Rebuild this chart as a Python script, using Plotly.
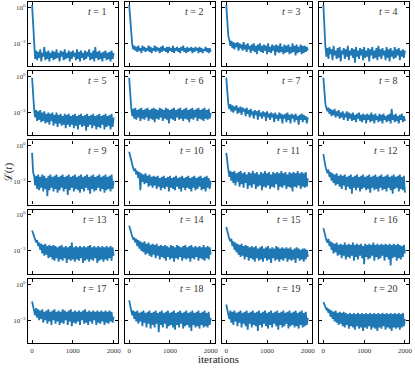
import numpy as np
import plotly.graph_objects as go
from plotly.subplots import make_subplots

# loss curves as log10(L) every ~25 iterations
t1 = [0.2, -1.6, -3.4, -4.3, -3.6, -4.4, -3.7, -4.2, -3.5, -4.5, -3.8, -4.1, -3.3, -4.4, -3.7, -4.3, -3.6, -4.5, -3.8, -4.2, -3.6, -4.4, -3.7, -4.3, -3.5, -4.2, -3.8, -4.5, -3.6, -4.1, -3.7, -4.4, -3.5, -4.3, -3.8, -4.2, -3.6, -4.5, -3.7, -4.3, -3.6, -4.1, -3.8, -4.4, -3.5, -4.3, -3.7, -4.5, -3.6, -4.2, -3.8, -4.4, -3.6, -4.3, -3.7, -4.1, -3.5, -4.4, -3.8, -4.3, -3.6, -4.5, -3.3, -4.2, -3.7, -4.4, -3.6, -4.3, -3.8, -4.5, -3.7, -4.2, -3.6, -4.4, -3.8, -4.3, -3.7, -4.5, -3.6, -4.3, -3.8]
t2 = [0.2, -1.2, -2.7, -3.1, -3.5, -3.2, -3.6, -3.3, -3.7, -3.2, -3.6, -3.4, -3.8, -3.2, -3.6, -3.3, -3.7, -3.4, -3.6, -3.2, -3.7, -3.3, -3.8, -3.4, -3.6, -3.2, -3.7, -3.3, -3.6, -3.4, -3.8, -3.3, -3.7, -3.2, -3.6, -3.4, -3.7, -3.3, -3.8, -3.3, -3.6, -3.4, -3.7, -3.2, -3.8, -3.4, -3.6, -3.3, -3.7, -3.4, -3.8, -3.3, -3.6, -3.2, -3.7, -3.4, -3.8, -3.3, -3.7, -3.4, -3.6, -3.3, -3.8, -3.4, -3.7, -3.3, -3.6, -3.4, -3.8, -3.3, -3.7, -3.4, -3.8, -3.5, -3.6, -3.3, -3.7, -3.4, -3.8, -3.4, -3.7]
t3 = [0.2, -1.4, -2.4, -2.7, -3.2, -2.8, -3.4, -2.9, -3.5, -3.0, -3.3, -2.9, -3.6, -3.0, -3.4, -3.1, -3.6, -2.9, -3.5, -3.1, -3.7, -3.0, -3.5, -3.2, -3.8, -3.1, -3.6, -3.0, -3.7, -3.2, -3.9, -3.1, -3.6, -3.0, -3.7, -3.2, -3.8, -3.1, -3.6, -3.2, -3.9, -3.0, -3.7, -3.3, -3.8, -3.1, -3.6, -3.2, -4.0, -3.1, -3.7, -3.2, -3.8, -3.0, -3.7, -3.3, -3.9, -3.1, -3.8, -3.2, -3.7, -3.1, -3.9, -3.3, -3.8, -3.0, -3.7, -3.2, -4.0, -3.1, -3.8, -3.3, -3.7, -3.1, -3.9, -3.2, -3.8, -3.2, -3.7, -3.3, -3.6]
t4 = [0.2, -2.2, -3.3, -4.1, -3.4, -4.3, -3.3, -3.9, -3.5, -4.4, -3.2, -4.0, -3.6, -4.3, -3.4, -4.2, -3.3, -4.5, -3.6, -3.9, -3.4, -4.3, -3.5, -4.1, -3.2, -4.4, -3.6, -4.0, -3.4, -4.2, -3.5, -4.6, -3.3, -4.1, -3.6, -4.3, -3.4, -4.0, -3.5, -4.4, -3.3, -4.2, -3.6, -4.1, -3.4, -4.5, -3.5, -4.0, -3.3, -4.3, -3.6, -4.2, -3.4, -4.4, -3.2, -4.1, -3.5, -4.3, -3.4, -4.0, -3.6, -4.4, -3.3, -4.2, -3.5, -4.5, -3.4, -4.1, -3.6, -4.3, -3.3, -4.2, -3.5, -4.0, -3.4, -4.4, -3.6, -4.1, -3.5, -4.2, -3.6]
t5 = [-0.1, -1.6, -2.7, -3.4, -2.8, -3.7, -2.9, -3.6, -2.8, -3.8, -3.0, -3.7, -2.9, -3.9, -3.1, -3.8, -3.0, -4.0, -3.1, -3.7, -3.0, -4.1, -3.2, -3.9, -3.0, -4.2, -3.2, -3.9, -3.1, -4.1, -3.3, -4.0, -3.1, -4.3, -3.2, -4.0, -3.1, -4.2, -3.3, -4.0, -3.2, -4.3, -3.1, -4.1, -3.3, -4.4, -3.2, -4.0, -3.1, -4.2, -3.3, -4.1, -3.2, -4.5, -3.1, -4.2, -3.3, -4.0, -3.2, -4.3, -3.1, -4.1, -3.3, -4.4, -3.2, -4.2, -3.1, -4.3, -3.3, -4.0, -3.2, -4.4, -3.1, -4.2, -3.3, -4.1, -3.2, -4.4, -3.1, -4.2, -3.4]
t6 = [-0.1, -1.9, -2.6, -3.3, -2.7, -3.5, -2.6, -3.6, -2.8, -3.4, -2.7, -3.7, -2.6, -3.5, -2.8, -3.6, -2.7, -3.4, -2.6, -3.7, -2.8, -3.5, -2.7, -3.6, -2.6, -3.8, -2.7, -3.5, -2.8, -3.6, -2.6, -3.4, -2.7, -3.7, -2.8, -3.5, -2.6, -3.6, -2.7, -3.9, -2.8, -3.5, -2.7, -3.6, -2.6, -3.7, -2.8, -3.4, -2.7, -3.6, -2.6, -3.5, -2.8, -3.7, -2.7, -3.5, -2.6, -3.6, -2.8, -3.8, -2.7, -3.5, -2.6, -3.6, -2.8, -3.4, -2.7, -3.7, -2.6, -3.5, -2.8, -3.6, -2.7, -3.7, -2.6, -3.5, -2.8, -3.6, -2.7, -3.5, -3.0]
t7 = [-0.1, -1.6, -2.3, -2.7, -2.3, -2.9, -2.4, -3.0, -2.5, -2.8, -2.4, -3.1, -2.6, -3.0, -2.5, -3.2, -2.6, -2.9, -2.7, -3.3, -2.6, -3.1, -2.8, -3.4, -2.7, -3.2, -2.9, -3.5, -2.8, -3.2, -2.9, -3.6, -2.8, -3.3, -3.0, -3.5, -2.9, -3.3, -3.0, -3.7, -2.9, -3.4, -3.1, -3.6, -3.0, -3.4, -3.1, -3.8, -3.0, -3.5, -3.2, -3.7, -3.0, -3.5, -3.1, -3.9, -3.2, -3.5, -3.1, -3.8, -3.0, -3.6, -3.2, -3.9, -3.1, -3.5, -3.2, -3.8, -3.1, -3.6, -3.3, -4.0, -3.2, -3.6, -3.1, -3.8, -3.2, -3.6, -3.3, -3.9, -3.4]
t8 = [-0.1, -1.5, -2.3, -2.6, -2.9, -2.6, -3.1, -2.7, -3.3, -2.8, -3.2, -2.7, -3.4, -2.9, -3.3, -2.8, -3.5, -3.0, -3.4, -2.9, -3.6, -3.1, -3.4, -2.9, -3.7, -3.0, -3.5, -3.1, -3.7, -3.0, -3.6, -3.2, -3.8, -3.1, -3.5, -3.0, -3.7, -3.2, -3.8, -3.1, -3.6, -3.2, -3.9, -3.1, -3.6, -3.2, -3.8, -3.0, -3.7, -3.2, -3.9, -3.1, -3.6, -3.3, -3.8, -3.1, -3.7, -3.2, -3.9, -3.1, -3.6, -3.3, -3.8, -3.2, -3.7, -3.1, -3.9, -2.7, -3.6, -3.2, -3.8, -3.1, -3.7, -3.3, -3.9, -3.2, -3.6, -3.1, -3.8, -3.3, -3.7]
t9 = [-0.6, -2.2, -2.5, -3.3, -2.5, -3.6, -2.4, -3.7, -2.6, -3.5, -2.4, -3.8, -2.5, -3.6, -2.7, -4.2, -2.5, -3.7, -2.4, -3.5, -2.6, -3.8, -2.5, -3.6, -2.4, -3.9, -2.6, -3.7, -2.5, -3.5, -2.4, -3.8, -2.6, -3.6, -2.5, -4.1, -2.4, -3.7, -2.6, -3.5, -2.5, -3.8, -2.4, -3.6, -2.6, -3.7, -2.5, -3.9, -2.4, -3.6, -2.6, -3.8, -2.5, -3.5, -2.4, -3.7, -2.6, -4.0, -2.5, -3.6, -2.4, -3.8, -2.6, -3.7, -2.5, -3.5, -2.4, -3.8, -2.6, -3.6, -2.5, -3.9, -2.4, -3.7, -2.6, -3.6, -2.5, -3.8, -2.4, -3.6, -2.9]
t10 = [-0.5, -0.9, -1.3, -1.6, -1.9, -2.1, -1.9, -2.4, -2.1, -2.7, -2.2, -3.7, -2.3, -3.0, -2.4, -3.2, -2.3, -3.1, -2.5, -3.4, -2.4, -3.3, -2.6, -3.5, -2.5, -3.3, -2.6, -3.6, -2.5, -3.4, -2.7, -3.7, -2.6, -3.5, -2.5, -3.6, -2.7, -3.4, -2.6, -3.8, -2.5, -3.5, -2.7, -3.6, -2.6, -3.7, -2.5, -3.4, -2.7, -3.6, -2.6, -3.8, -2.5, -3.5, -2.7, -3.7, -2.6, -3.5, -2.5, -3.6, -2.7, -3.8, -2.6, -3.5, -2.5, -3.7, -2.7, -3.6, -2.6, -3.4, -2.5, -3.7, -2.7, -3.6, -2.6, -3.8, -2.5, -3.5, -2.7, -3.6, -2.9]
t11 = [-0.6, -1.6, -2.0, -2.6, -2.1, -2.9, -2.2, -3.1, -2.1, -3.3, -2.3, -3.0, -2.2, -3.4, -2.1, -3.2, -2.3, -3.5, -2.2, -3.1, -2.4, -3.6, -2.2, -3.3, -2.3, -3.5, -2.1, -3.2, -2.3, -3.6, -2.2, -3.4, -2.4, -3.3, -2.2, -3.7, -2.3, -3.4, -2.1, -3.5, -2.3, -3.3, -2.2, -3.6, -2.4, -3.4, -2.2, -3.5, -2.3, -3.2, -2.2, -3.7, -2.3, -3.4, -2.1, -3.5, -2.3, -3.3, -2.2, -3.6, -2.4, -3.4, -2.2, -3.5, -2.3, -3.8, -2.2, -3.4, -2.3, -3.5, -2.1, -3.3, -2.3, -3.6, -2.2, -3.4, -2.3, -3.5, -2.2, -3.4, -2.7]
t12 = [-0.7, -1.3, -1.7, -2.0, -2.3, -2.0, -2.6, -2.2, -2.9, -2.3, -3.1, -2.4, -3.3, -2.3, -3.2, -2.5, -3.4, -2.4, -3.6, -2.5, -3.3, -2.4, -3.7, -2.6, -3.4, -2.5, -3.6, -2.4, -4.0, -2.6, -3.5, -2.5, -3.7, -2.4, -3.5, -2.6, -3.8, -2.5, -3.6, -2.4, -3.5, -2.6, -3.7, -2.5, -3.6, -2.4, -3.9, -2.6, -3.5, -2.5, -3.7, -2.4, -3.6, -2.6, -3.8, -2.5, -3.5, -2.4, -3.7, -2.6, -3.6, -2.5, -3.8, -2.4, -3.5, -2.6, -3.7, -2.5, -4.0, -2.4, -3.6, -2.6, -3.5, -2.5, -3.8, -2.4, -3.6, -2.6, -3.7, -2.5, -3.9]
t13 = [-1.3, -1.6, -1.9, -2.1, -2.3, -2.1, -2.6, -2.3, -2.9, -2.4, -3.2, -2.5, -3.4, -2.4, -3.3, -2.6, -3.6, -2.5, -3.5, -2.6, -3.7, -2.5, -3.8, -2.6, -3.6, -2.7, -3.9, -2.6, -3.7, -2.5, -3.8, -2.7, -3.6, -2.6, -4.0, -2.7, -3.7, -2.6, -3.8, -2.3, -3.7, -2.7, -3.9, -2.6, -3.7, -2.7, -3.8, -2.6, -3.6, -2.7, -4.0, -2.6, -3.8, -2.7, -3.7, -2.6, -3.9, -2.5, -3.7, -2.7, -3.8, -2.6, -3.6, -2.7, -4.0, -2.6, -3.8, -2.7, -3.7, -2.6, -3.9, -2.7, -3.7, -2.6, -3.8, -2.7, -3.6, -2.6, -3.8, -2.7, -3.4]
t14 = [-0.9, -1.3, -1.6, -1.8, -2.0, -1.9, -2.3, -2.0, -2.6, -2.1, -2.8, -2.2, -3.0, -2.3, -3.1, -2.2, -3.3, -2.4, -3.2, -2.3, -3.4, -2.5, -3.5, -2.4, -3.3, -2.5, -3.6, -2.4, -3.4, -2.6, -3.7, -2.5, -3.5, -2.6, -3.6, -2.5, -3.8, -2.6, -3.5, -2.7, -3.7, -2.5, -3.6, -2.6, -3.9, -2.7, -3.6, -2.5, -3.7, -2.6, -3.5, -2.7, -3.8, -2.6, -3.6, -2.5, -3.7, -2.7, -3.6, -2.6, -3.9, -2.5, -3.6, -2.7, -3.7, -2.6, -3.5, -2.7, -3.8, -2.6, -3.6, -2.7, -3.7, -2.5, -3.8, -2.7, -3.6, -2.6, -3.7, -2.7, -3.3]
t15 = [-1.0, -1.4, -1.7, -2.0, -2.2, -2.0, -2.6, -2.2, -2.9, -2.3, -3.1, -2.4, -3.3, -2.5, -3.5, -2.4, -3.4, -2.6, -3.7, -2.5, -3.5, -2.6, -3.8, -2.7, -3.6, -2.6, -3.7, -2.7, -3.9, -2.6, -3.6, -2.8, -3.8, -2.7, -3.7, -2.6, -3.9, -2.8, -3.6, -2.7, -3.8, -2.6, -3.7, -2.8, -4.0, -2.7, -3.6, -2.8, -3.8, -2.6, -3.7, -2.7, -3.9, -2.8, -3.7, -2.7, -3.8, -2.8, -3.6, -2.7, -3.9, -2.8, -3.7, -2.7, -3.8, -2.9, -3.7, -2.8, -4.0, -2.7, -3.6, -2.8, -3.8, -2.9, -3.7, -2.8, -3.9, -2.8, -3.7, -2.9, -3.5]
t16 = [-1.1, -1.5, -1.9, -2.1, -2.3, -2.0, -2.6, -2.2, -2.9, -2.3, -3.2, -2.4, -3.1, -2.3, -3.4, -2.5, -3.3, -2.4, -3.6, -2.5, -3.4, -2.3, -3.7, -2.5, -3.5, -2.4, -3.6, -2.5, -3.4, -2.3, -3.8, -2.5, -3.5, -2.4, -3.7, -2.5, -3.4, -2.4, -3.6, -2.6, -4.1, -2.4, -3.5, -2.5, -3.7, -2.4, -3.6, -2.5, -3.4, -2.3, -3.8, -2.5, -3.5, -2.4, -3.7, -2.5, -3.6, -2.4, -3.4, -2.5, -3.8, -2.4, -3.5, -2.5, -3.7, -2.4, -4.2, -2.5, -3.6, -2.4, -3.5, -2.5, -3.8, -2.4, -3.6, -2.5, -3.7, -2.6, -3.5, -2.5, -3.2]
t17 = [-1.45, -1.9, -2.1, -2.6, -2.0, -2.8, -2.1, -3.0, -2.2, -2.9, -2.1, -3.2, -2.3, -3.0, -2.2, -3.3, -2.1, -3.1, -2.3, -3.4, -2.2, -3.0, -2.1, -3.3, -2.3, -3.1, -2.2, -3.4, -2.3, -3.2, -2.1, -3.3, -2.2, -3.0, -2.3, -3.4, -2.2, -3.1, -2.1, -3.5, -2.3, -3.2, -2.2, -3.3, -2.3, -3.1, -2.2, -3.4, -2.3, -3.0, -2.2, -3.3, -2.1, -3.2, -2.3, -3.4, -2.2, -3.1, -2.3, -3.3, -2.2, -3.0, -2.3, -3.4, -2.2, -3.2, -2.3, -3.3, -2.2, -3.1, -2.3, -3.4, -2.2, -3.2, -2.3, -3.3, -2.2, -3.1, -2.3, -3.2, -2.7]
t18 = [-1.35, -1.8, -2.1, -2.6, -2.2, -2.9, -2.3, -3.1, -2.2, -3.3, -2.4, -3.1, -2.3, -3.5, -2.2, -3.2, -2.4, -3.6, -2.3, -3.3, -2.2, -3.7, -2.4, -3.4, -2.3, -3.6, -2.2, -3.3, -2.4, -4.0, -2.3, -3.4, -2.2, -3.6, -2.4, -3.3, -2.3, -3.7, -2.2, -3.5, -2.4, -3.4, -2.3, -3.6, -2.2, -3.8, -2.4, -3.4, -2.3, -3.6, -2.2, -3.3, -2.4, -3.7, -2.3, -3.5, -2.2, -3.4, -2.4, -3.6, -2.3, -3.9, -2.2, -3.4, -2.4, -3.6, -2.3, -3.5, -2.2, -3.7, -2.4, -3.4, -2.3, -3.6, -2.2, -3.5, -2.4, -3.6, -2.3, -3.4, -2.8]
t19 = [-1.7, -2.1, -2.3, -2.9, -2.2, -3.2, -2.3, -3.4, -2.2, -3.1, -2.4, -3.5, -2.3, -3.2, -2.2, -3.6, -2.4, -3.3, -2.3, -3.5, -2.2, -3.8, -2.4, -3.3, -2.3, -3.6, -2.2, -3.4, -2.4, -3.5, -2.3, -3.9, -2.2, -3.4, -2.4, -3.6, -2.3, -3.3, -2.2, -3.5, -2.4, -3.7, -2.3, -3.4, -2.2, -3.6, -2.4, -3.3, -2.3, -3.5, -2.2, -3.8, -2.4, -3.4, -2.3, -3.6, -2.2, -3.5, -2.4, -3.3, -2.3, -3.7, -2.2, -3.5, -2.4, -3.4, -2.3, -3.6, -2.2, -3.5, -2.4, -3.7, -2.3, -3.4, -2.2, -3.6, -2.4, -3.5, -2.3, -3.4, -2.8]
t20 = [-1.5, -1.7, -1.9, -2.1, -2.0, -2.4, -2.1, -2.7, -2.2, -2.9, -2.3, -3.1, -2.2, -3.2, -2.4, -3.4, -2.3, -3.3, -2.4, -3.5, -2.3, -3.6, -2.4, -3.4, -2.5, -3.7, -2.4, -3.5, -2.5, -3.6, -2.4, -3.8, -2.5, -3.5, -2.4, -3.7, -2.5, -3.6, -2.4, -3.9, -2.5, -3.6, -2.4, -3.7, -2.5, -3.5, -2.4, -3.8, -2.5, -3.6, -2.4, -3.7, -2.5, -3.9, -2.4, -3.6, -2.5, -3.7, -2.4, -3.5, -2.5, -3.8, -2.4, -3.6, -2.5, -3.7, -2.4, -3.9, -2.5, -3.6, -2.4, -3.7, -2.5, -3.6, -2.4, -3.8, -2.5, -3.6, -2.4, -3.5, -2.9]

panels = [t1, t2, t3, t4, t5, t6, t7, t8, t9, t10,
          t11, t12, t13, t14, t15, t16, t17, t18, t19, t20]
x_ticks = [0, 1000, 2000]
y_ticks = [1, 1e-3]
y_ticktext = ["10<sup>0</sup>", "10<sup>\u22123</sup>"]

W, H = 415, 368
L, R, T, B = 27.7, 5.7, 2, 25
PW, PH = W - L - R, H - T - B
FONT = "Liberation Serif"
BLUE = "#1f77b4"

fig = make_subplots(rows=5, cols=4, horizontal_spacing=7.4 / PW,
                    vertical_spacing=5 / PH)

for i, vals in enumerate(panels):
    r, c = i // 4 + 1, i % 4 + 1
    iters = np.linspace(0, 2000, len(vals))
    fig.add_trace(go.Scatter(x=iters, y=10 ** np.array(vals), mode="lines",
                             line=dict(color=BLUE, width=1.8),
                             showlegend=False, hoverinfo="skip"),
                  row=r, col=c)
    fig.add_annotation(text=f"<i>t</i> = {i + 1}", showarrow=False,
                       xref="x domain" if i == 0 else f"x{i + 1} domain",
                       yref="y domain" if i == 0 else f"y{i + 1} domain",
                       x=0.89, y=0.85, xanchor="right", yanchor="middle",
                       font=dict(family=FONT, size=10, color="#333"))

fig.update_xaxes(range=[-100, 2100], tickvals=x_ticks, ticks="inside",
                 ticklen=3, tickwidth=0.8, tickcolor="black",
                 showline=True, mirror="ticks", linecolor="black",
                 linewidth=1.3, showgrid=False, zeroline=False,
                 showticklabels=False,
                 tickfont=dict(family=FONT, size=7, color="#333"))
fig.update_yaxes(type="log", range=[-4.9, 0.44], tickvals=y_ticks,
                 ticktext=y_ticktext, ticks="inside", ticklen=3,
                 tickwidth=0.8, tickcolor="black", showline=True,
                 mirror="ticks", linecolor="black", linewidth=1.3,
                 showgrid=False, zeroline=False, showticklabels=False,
                 tickfont=dict(family=FONT, size=7, color="#333"))
fig.update_xaxes(showticklabels=True, row=5)
fig.update_yaxes(showticklabels=True, col=1)

# paper coords are relative to the plot area, so convert from pixels
fig.add_annotation(text="iterations", xref="paper", yref="paper",
                   x=(218 - L) / PW, y=(H - B - 359) / PH,
                   xanchor="center", yanchor="middle", showarrow=False,
                   font=dict(family=FONT, size=11, color="#222"))
fig.add_annotation(text="\u2112(<i>t</i>)", xref="paper", yref="paper",
                   x=(8 - L) / PW, y=(H - B - 172) / PH, textangle=-90,
                   xanchor="center", yanchor="middle", showarrow=False,
                   font=dict(family=FONT, size=11, color="#222"))

fig.update_layout(width=W, height=H, plot_bgcolor="white",
                  paper_bgcolor="white",
                  margin=dict(l=L, r=R, t=T, b=B))

fig.write_html("out.html", config={"displayModeBar": False},
               post_script="document.body.style.margin='0';")
